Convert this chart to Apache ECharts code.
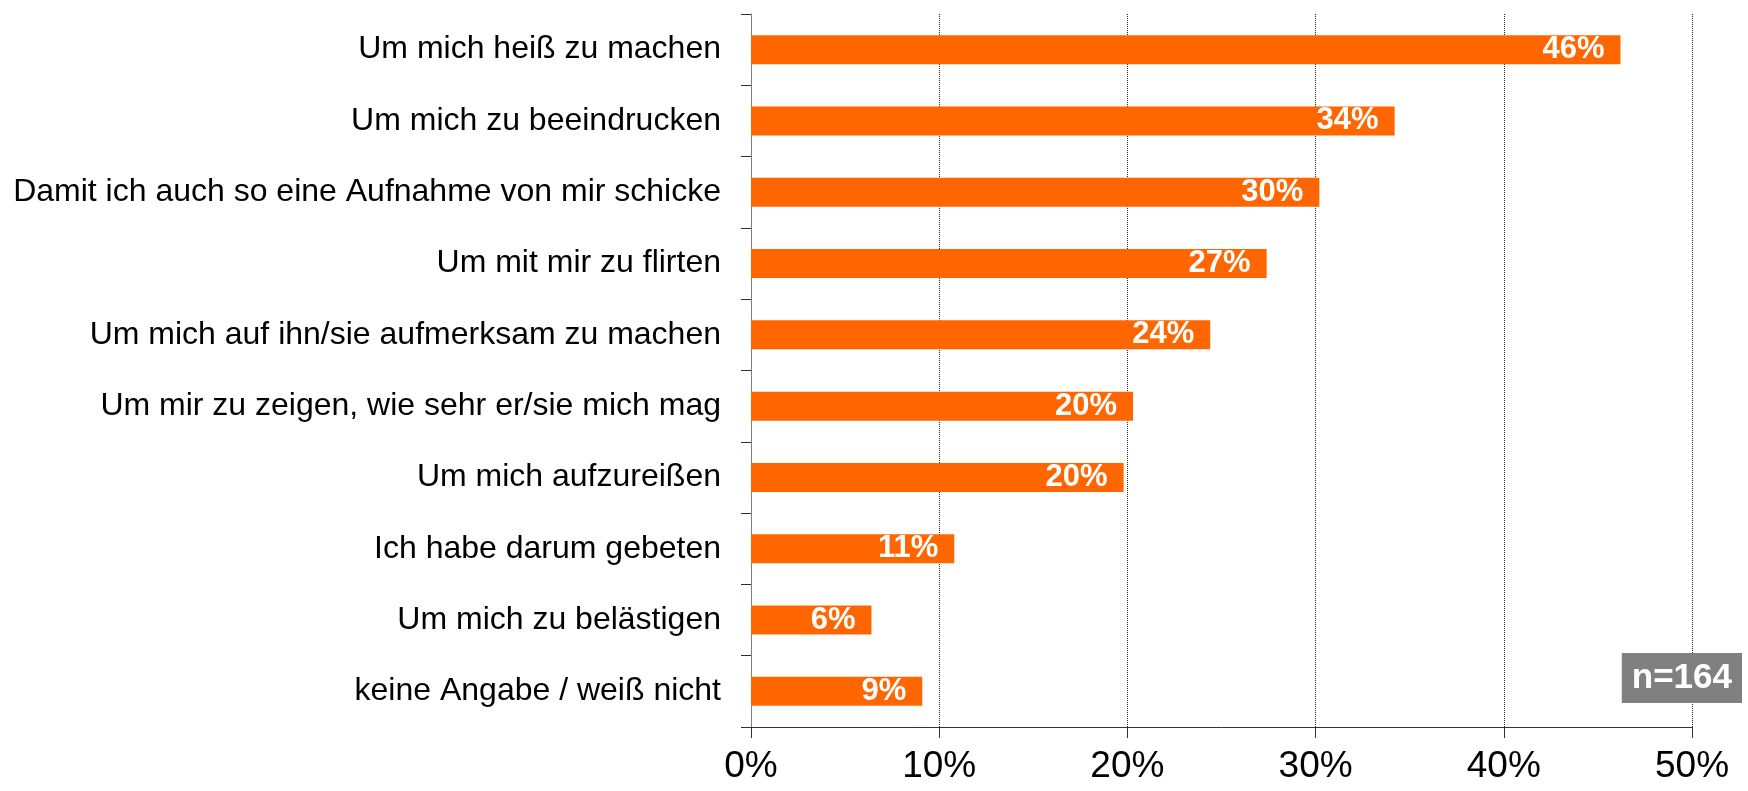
<!DOCTYPE html>
<html>
<head>
<meta charset="utf-8">
<script src="https://cdn.jsdelivr.net/npm/echarts@6/dist/echarts.min.js"></script>
<style>
  html, body { margin: 0; padding: 0; background: #fff; }
  #chart { width: 1748px; height: 791px; }
</style>
</head>
<body>
<div id="chart"></div>
<script>
// Kategorien (von oben nach unten)
const categories = [
  "Um mich heiß zu machen",
  "Um mich zu beeindrucken",
  "Damit ich auch so eine Aufnahme von mir schicke",
  "Um mit mir zu flirten",
  "Um mich auf ihn/sie aufmerksam zu machen",
  "Um mir zu zeigen, wie sehr er/sie mich mag",
  "Um mich aufzureißen",
  "Ich habe darum gebeten",
  "Um mich zu belästigen",
  "keine Angabe / weiß nicht"
];
// Balkenlängen in %
const values = [46.2, 34.2, 30.2, 27.4, 24.4, 20.3, 19.8, 10.8, 6.4, 9.1];
// Beschriftungen auf den Balken
const valueLabels = ["46%", "34%", "30%", "27%", "24%", "20%", "20%", "11%", "6%", "9%"];
const sampleNote = "n=164";

const FONT = '"Liberation Sans", Arial, sans-serif';

const chart = echarts.init(document.getElementById("chart"));

const option = {
  animation: false,
  textStyle: { fontFamily: FONT },
  title: {
    text: sampleNote,
    right: 6,
    top: 653,
    backgroundColor: "#808080",
    padding: [4, 10, 3, 10],
    textStyle: {
      color: "#fff",
      fontSize: 35,
      fontWeight: "bold",
      fontFamily: FONT,
      lineHeight: 43
    }
  },
  grid: {
    left: 751,
    right: 56,
    top: 14,
    bottom: 64,
    containLabel: false
  },
  xAxis: {
    type: "value",
    min: 0,
    max: 50,
    interval: 10,
    axisLine: { show: true, lineStyle: { color: "#333", width: 1 } },
    axisTick: { show: true, length: 11, lineStyle: { color: "#333" } },
    splitLine: { show: true, lineStyle: { color: "#222", type: [1, 1], width: 1 } },
    axisLabel: {
      formatter: "{value}%",
      color: "#000",
      fontSize: 37,
      fontFamily: FONT,
      margin: 21
    }
  },
  yAxis: {
    type: "category",
    inverse: true,
    data: categories,
    axisLine: { show: true, lineStyle: { color: "#808080", width: 1 } },
    axisTick: { show: true, length: 10, lineStyle: { color: "#333" } },
    axisLabel: {
      color: "#000",
      fontSize: 32,
      fontFamily: FONT,
      margin: 30
    }
  },
  series: [
    {
      type: "bar",
      data: values,
      barWidth: 29,
      itemStyle: { color: "#FF6600" },
      label: {
        show: true,
        position: "insideRight",
        distance: 16,
        color: "#fff",
        fontSize: 31,
        fontWeight: "bold",
        fontFamily: FONT,
        formatter: (p) => valueLabels[p.dataIndex]
      }
    }
  ]
};

chart.setOption(option);
</script>
</body>
</html>
